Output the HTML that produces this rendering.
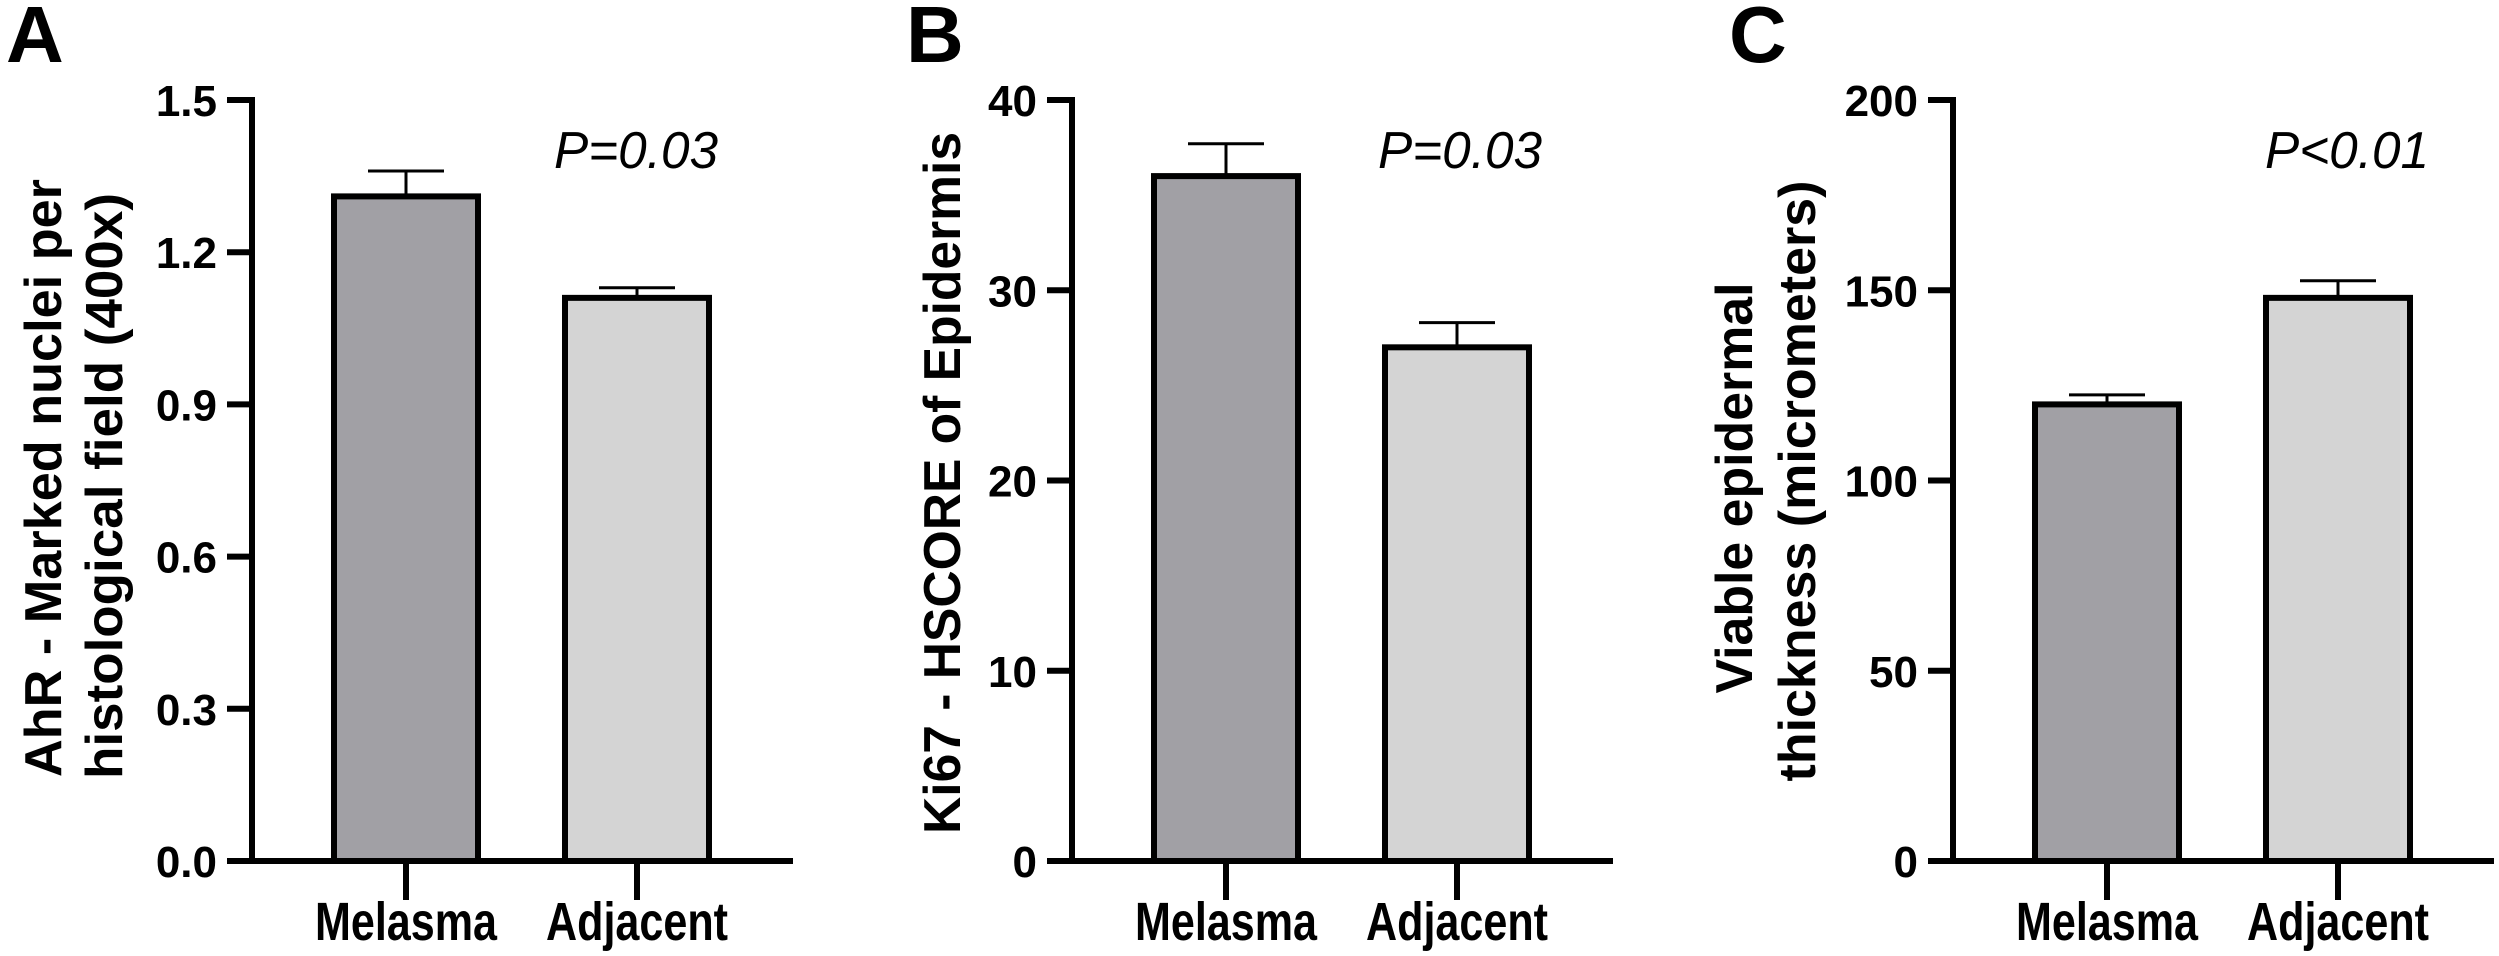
<!DOCTYPE html>
<html><head><meta charset="utf-8"><style>
html,body{margin:0;padding:0;background:#fff;}
svg{display:block;}
text{font-family:"Liberation Sans",Arial,sans-serif;}
</style></head><body>
<svg id="fig" width="2499" height="956" viewBox="0 0 2499 956"></svg>
<script>
const categories = ["Melasma", "Adjacent"];
const panelLetters = ["A", "B", "C"];
const meansA = [1.31, 1.11];
const errsA = [0.05, 0.02];
const meansB = [36, 27];
const errsB = [1.7, 1.3];
const meansC = [120, 148];
const errsC = [2.5, 4.5];
const ticksA = [0, 0.3, 0.6, 0.9, 1.2, 1.5];
const tickLabelsA = ["0.0", "0.3", "0.6", "0.9", "1.2", "1.5"];
const ticksB = [0, 10, 20, 30, 40];
const tickLabelsB = ["0", "10", "20", "30", "40"];
const ticksC = [0, 50, 100, 150, 200];
const tickLabelsC = ["0", "50", "100", "150", "200"];
const pLabels = ["P=0.03", "P=0.03", "P<0.01"];

const NS = "http://www.w3.org/2000/svg";
const svg = document.getElementById("fig");
function mk(tag, attrs, parent) {
  const e = document.createElementNS(NS, tag);
  for (const k in attrs) e.setAttribute(k, attrs[k]);
  (parent || svg).appendChild(e);
  return e;
}
const TOP = 100, BOT = 861;
const fills = ["#a1a0a5", "#d4d4d4"];

const panels = [
  {ax: 252, max: 1.5, means: meansA, errs: errsA, ticks: ticksA, labels: tickLabelsA, letterX: 6, pX: 636,
   titles: [{t: "AhR - Marked nuclei per", x: 61, cy: 478, len: 598}, {t: "histological field (400x)", x: 122, cy: 486, len: 586}]},
  {ax: 1072, max: 40, means: meansB, errs: errsB, ticks: ticksB, labels: tickLabelsB, letterX: 906, pX: 1460,
   titles: [{t: "Ki67 - HSCORE of Epidermis", x: 960, cy: 483, len: 702}]},
  {ax: 1953, max: 200, means: meansC, errs: errsC, ticks: ticksC, labels: tickLabelsC, letterX: 1729, pX: 2347,
   titles: [{t: "Viable epidermal", x: 1752, cy: 488, len: 411}, {t: "thickness (micrometers)", x: 1815, cy: 481, len: 601}]}
];

panels.forEach((p, pi) => {
  const g = mk("g", {});
  
  
  const y = v => BOT - (v / p.max) * (BOT - TOP);
  const centers = [p.ax + 154, p.ax + 385];

  const L = mk("text", {x: p.letterX, y: 62, "font-size": 80, "font-weight": "bold", fill: "#000"}, g);
  L.textContent = panelLetters[pi];
  
  

  p.titles.forEach(tt => {
    const t = mk("text", {x: 0, y: 0, "font-size": 52, "font-weight": "bold", "text-anchor": "middle",
      textLength: tt.len, lengthAdjust: "spacingAndGlyphs",
      transform: `translate(${tt.x},${tt.cy}) rotate(-90)`}, g);
    t.textContent = tt.t;
    
    
  });

  p.means.forEach((m, i) => {
    const w = 150, x0 = centers[i] - w / 2, yt = y(m);
    const eb = mk("line", {x1: centers[i], x2: centers[i], y1: y(m + p.errs[i]), y2: yt, stroke: "#000", "stroke-width": 3}, g);
    
    
    const cap = mk("line", {x1: centers[i] - 38, x2: centers[i] + 38, y1: y(m + p.errs[i]), y2: y(m + p.errs[i]), stroke: "#000", "stroke-width": 3}, g);
    
    
    const r = mk("rect", {x: x0 + 3, y: yt, width: w - 6, height: BOT - yt, fill: fills[i], stroke: "#000", "stroke-width": 6}, g);
    
    
    const ct = mk("line", {x1: centers[i], x2: centers[i], y1: BOT, y2: 900, stroke: "#000", "stroke-width": 6}, g);
    
    
    const cl = mk("text", {x: centers[i], y: 940, "font-size": 54, "font-weight": "bold", "text-anchor": "middle",
      textLength: 182, lengthAdjust: "spacingAndGlyphs"}, g);
    cl.textContent = categories[i];
    
    
  });

  const ya = mk("line", {x1: p.ax, x2: p.ax, y1: TOP - 3, y2: BOT + 3, stroke: "#000", "stroke-width": 6}, g);
  
  
  const xa = mk("line", {x1: p.ax - 25, x2: p.ax + 541, y1: BOT, y2: BOT, stroke: "#000", "stroke-width": 6}, g);
  
  

  p.ticks.forEach((tv, i) => {
    const tk = mk("line", {x1: p.ax - 25, x2: p.ax, y1: y(tv), y2: y(tv), stroke: "#000", "stroke-width": 6}, g);
    
    
    const tl = mk("text", {x: p.ax - 35, y: y(tv) + 16, "font-size": 44, "font-weight": "bold", "text-anchor": "end"}, g);
    tl.textContent = p.labels[i];
    
    
  });

  const pt = mk("text", {x: p.pX, y: 168, "font-size": 52, "font-style": "italic", "text-anchor": "middle",
    textLength: 164, lengthAdjust: "spacingAndGlyphs"}, g);
  pt.textContent = pLabels[pi];
  
  
});
</script>
</body></html>
